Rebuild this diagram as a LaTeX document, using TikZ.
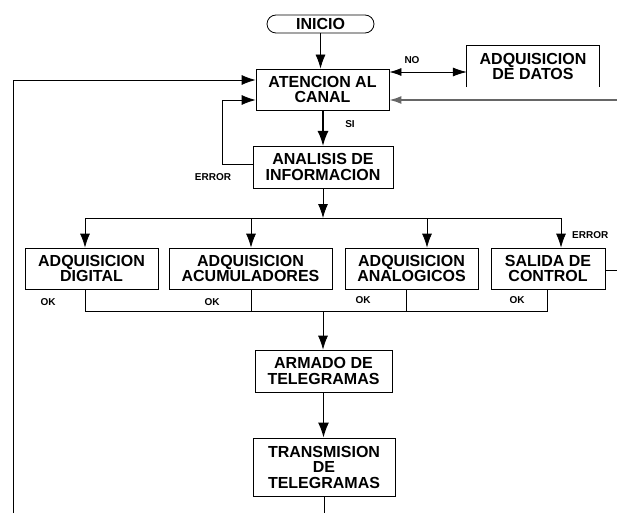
\documentclass[tikz,border=0pt]{standalone}
\usepackage{fontspec}
\setmainfont{Liberation Sans}
\usetikzlibrary{arrows.meta}
\begin{document}
\begin{tikzpicture}[x=1pt,y=-1pt,
  boxtext/.style={font=\bfseries\fontsize{16}{15.5}\selectfont, align=center, inner sep=0pt},
  stepbox/.style={boxtext, draw, line width=0.8pt, rectangle},
  lbl/.style={font=\bfseries\fontsize{10}{10}\selectfont, inner sep=0pt},
  conn/.style={line width=0.8pt},
  arr/.style={conn, -{Latex[length=14pt,width=10pt]}},
  thick arr/.style={line width=1.6pt, -{Latex[length=15pt,width=11pt]}}
]
\useasboundingbox (0,0) rectangle (617,513);

% nodes
\node[boxtext, draw, line width=0.8pt, rounded corners=9pt, minimum width=107pt, minimum height=18pt] (inicio) at (320.5,24) {INICIO};
\node[stepbox, minimum width=133pt, minimum height=41pt] (aten) at (322.5,89.5) {ATENCION AL\\CANAL};
\node[boxtext, minimum width=132pt, minimum height=41pt] (datos) at (533,66.5) {ADQUISICION\\DE DATOS};
\draw[conn] (datos.south west) -- (datos.north west) -- (datos.north east) -- (datos.south east);
\node[stepbox, minimum width=140pt, minimum height=42pt] (anal) at (323,167) {ANALISIS DE\\INFORMACION};
\node[stepbox, minimum width=133pt, minimum height=41pt] (b1) at (91.5,268.5) {ADQUISICION\\DIGITAL};
\node[stepbox, minimum width=163pt, minimum height=41pt] (b2) at (250.5,268.5) {ADQUISICION\\ACUMULADORES};
\node[stepbox, minimum width=133pt, minimum height=41pt] (b3) at (411.5,268.5) {ADQUISICION\\ANALOGICOS};
\node[stepbox, minimum width=114pt, minimum height=41pt] (b4) at (548,268.5) {SALIDA DE\\CONTROL};
\node[stepbox, minimum width=137pt, minimum height=42pt] (arm) at (323.5,371) {ARMADO DE\\TELEGRAMAS};
\node[stepbox, minimum width=142pt, minimum height=58pt] (trans) at (324,467) {TRANSMISION\\DE\\TELEGRAMAS};

% labels
\node[lbl] (no) at (412,60) {NO};
\node[lbl] (si) at (350,124) {SI};
\node[lbl] (err1) at (213,177) {ERROR};
\node[lbl, anchor=west] (err2) at (572,235) {ERROR};
\node[lbl] (ok1) at (48,302) {OK};
\node[lbl] (ok2) at (212,302) {OK};
\node[lbl] (ok3) at (363,300) {OK};
\node[lbl] (ok4) at (517,300) {OK};

% coordinates
\coordinate (d0) at (323,218);
\coordinate (d1) at (85,218);
\coordinate (d2) at (251,218);
\coordinate (d3) at (427,218);
\coordinate (d4) at (561,218);
\coordinate (c1) at (85,311);
\coordinate (c2) at (251,311);
\coordinate (c3) at (406,311);
\coordinate (c4) at (547,311);
\coordinate (c0) at (323,311);
\coordinate (lbot) at (13,513);
\coordinate (ltop) at (13,80);
\coordinate (loopx) at (222,164);
\coordinate (rin) at (617,100);
\coordinate (rout) at (617,270);
\coordinate (tbot) at (324,513);

% connectors
\draw[arr] (inicio.south) -- (inicio.south |- aten.north);
\draw[thick arr] (aten.south -| 323,0) -- (323,146);
\draw[conn, {Latex[length=12pt,width=8pt]}-{Latex[length=14pt,width=9pt]}] (aten.east |- 0,72) -- (datos.west |- 0,72);
\draw[line width=1.4pt, gray!80!black, -{Latex[length=12pt,width=8pt]}] (rin) -- (aten.east |- rin);
\draw[conn] (lbot) -- (ltop);
\draw[arr] (ltop) -- (aten.west |- ltop);
\draw[conn] (anal.west |- loopx) -- (loopx) -- (222,100);
\draw[arr] (222,100) -- (aten.west |- 0,100);
\draw[arr] (anal.south) -- (d0);
\draw[conn] (d1) -- (d4);
\draw[arr] (d1) -- (d1 |- b1.north);
\draw[arr] (d2) -- (d2 |- b2.north);
\draw[arr] (d3) -- (d3 |- b3.north);
\draw[arr] (d4) -- (d4 |- b4.north);
\draw[conn] (b1.south -| c1) -- (c1) -- (c4) -- (b4.south -| c4);
\draw[conn] (b2.south -| c2) -- (c2);
\draw[conn] (b3.south -| c3) -- (c3);
\draw[conn] (b4.east |- rout) -- (rout);
\draw[arr] (c0) -- (c0 |- arm.north);
\draw[thick arr] (arm.south) -- (arm.south |- trans.north);
\draw[conn] (trans.south) -- (tbot);
\end{tikzpicture}
\end{document}
